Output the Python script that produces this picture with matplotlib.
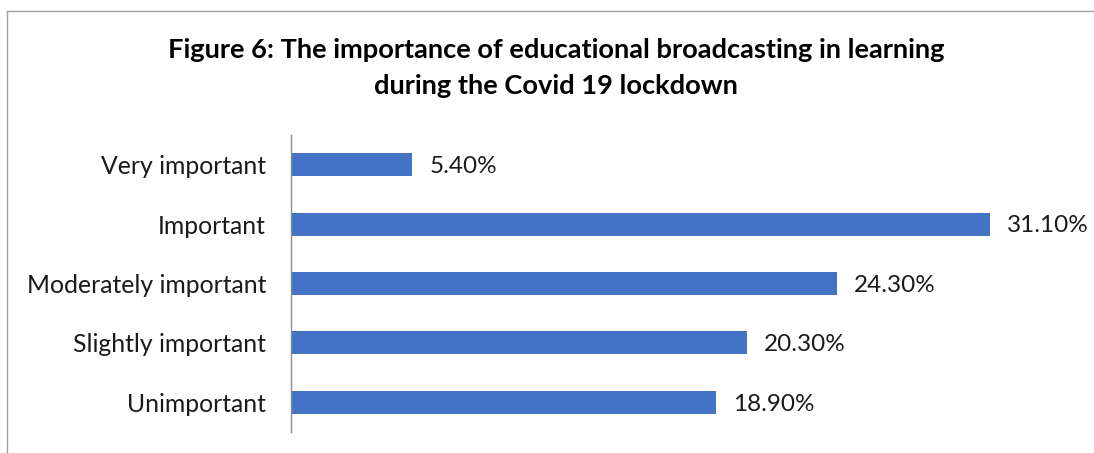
import matplotlib.pyplot as plt
from matplotlib.lines import Line2D

categories = ["Very important", "Important", "Moderately important",
              "Slightly important", "Unimportant"]
values = [5.4, 31.1, 24.3, 20.3, 18.9]
value_labels = ["5.40%", "31.10%", "24.30%", "20.30%", "18.90%"]

plt.rcParams['font.family'] = ['Lato', 'DejaVu Sans']

fig = plt.figure(figsize=(10.94, 4.53), dpi=100)
ax = fig.add_axes([291 / 1094, 21 / 453, (1060 - 291) / 1094, 297 / 453])

ypos = list(range(len(categories)))
ax.barh(ypos, values, height=0.39, color='#4472C4')
for y, v, lab in zip(ypos, values, value_labels):
    ax.text(v + 0.75, y + 0.03, lab, va='center', ha='left', fontsize=17.5, color='#1a1a1a')

ax.set_xlim(0, 34.2)
ax.set_ylim(4.5, -0.5)
ax.set_yticks(ypos)
ax.set_yticklabels(categories, fontsize=17.8, color='#1a1a1a')
ax.tick_params(axis='y', length=0, pad=18)
ax.set_xticks([])
for s in ['top', 'right', 'bottom']:
    ax.spines[s].set_visible(False)
ax.spines['left'].set_color('#8c8c8c')
ax.spines['left'].set_linewidth(1)

fig.text(556 / 1094, 1 - 50 / 453, "Figure 6: The importance of educational broadcasting in learning",
         ha='center', va='center', fontsize=19.6, fontweight='bold')
fig.text(556 / 1094, 1 - 86 / 453, "during the Covid 19 lockdown",
         ha='center', va='center', fontsize=19.6, fontweight='bold')

# chart border (left and top edges visible)
fig.add_artist(Line2D([7 / 1094, 7 / 1094], [0, 1 - 11 / 453], transform=fig.transFigure,
                      color='#a0a0a0', linewidth=1))
fig.add_artist(Line2D([7 / 1094, 1], [1 - 11 / 453, 1 - 11 / 453], transform=fig.transFigure,
                      color='#a0a0a0', linewidth=1))

fig.savefig('out.png', dpi=100)
